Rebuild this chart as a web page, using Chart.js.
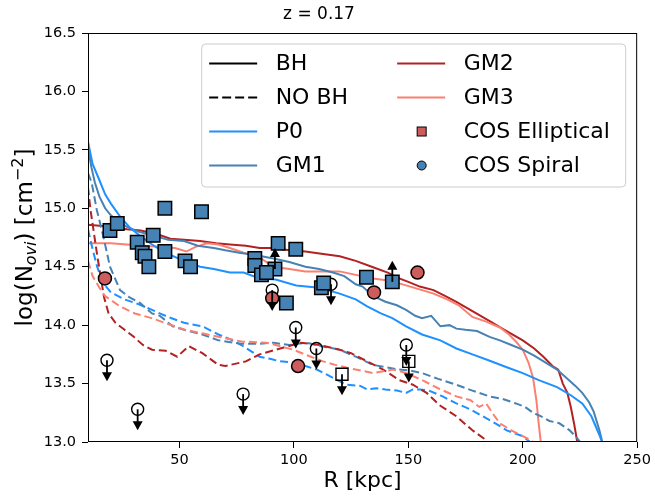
<!DOCTYPE html>
<html lang="en">
<head>
    <meta charset="UTF-8">
    <title>OVI column density profiles</title>
    <style>
        html, body { margin: 0; padding: 0; background: #fff; }
        #myChart { display: block; }
    </style>
</head>
<body>
    <canvas id="myChart" width="655" height="499"></canvas>

    <script src="https://cdn.jsdelivr.net/npm/chart.js"></script>
    <script>
        // ---- tick labels ----
        const xTicks = [50, 100, 150, 200, 250];
        const yTicks = [13.0, 13.5, 14.0, 14.5, 15.0, 15.5, 16.0, 16.5];

        // ---- BH runs (solid) ----
        const p0BhR = [10, 12, 15, 17.5, 20, 24, 28, 33, 38, 42, 46, 52, 59, 65, 72, 78, 85, 92, 101, 111, 120, 127, 132, 138, 143, 149, 156, 164, 171, 178, 185, 193, 200, 207, 215, 221, 226, 230, 233.5, 235];
        const p0BhN = [15.57, 15.38, 15.24, 15.12, 15.04, 14.93, 14.84, 14.76, 14.69, 14.64, 14.60, 14.55, 14.50, 14.48, 14.45, 14.45, 14.40, 14.39, 14.34, 14.32, 14.27, 14.22, 14.16, 14.10, 14.06, 13.99, 13.92, 13.87, 13.80, 13.75, 13.70, 13.64, 13.59, 13.53, 13.47, 13.40, 13.33, 13.22, 13.06, 12.98];

        const gm1BhR = [10, 11.5, 13, 15, 17.5, 20, 23, 27, 32, 38, 45, 52, 58, 65, 70, 76, 83, 91, 98, 105, 111, 117, 122, 127, 130, 134.5, 140, 145, 149, 153, 156, 160, 164, 168, 171, 175, 180, 185.5, 190, 195, 200, 205, 210, 215, 219, 223, 226, 229, 231, 233.5, 235];
        const gm1BhN = [15.52, 15.35, 15.22, 15.10, 15.00, 14.94, 14.89, 14.84, 14.80, 14.77, 14.73, 14.72, 14.68, 14.66, 14.64, 14.62, 14.60, 14.57, 14.54, 14.50, 14.48, 14.45, 14.42, 14.35, 14.33, 14.25, 14.20, 14.17, 14.13, 14.08, 14.06, 14.08, 13.99, 14.00, 13.97, 13.96, 13.95, 13.90, 13.87, 13.83, 13.79, 13.74, 13.68, 13.62, 13.55, 13.48, 13.42, 13.34, 13.26, 13.10, 12.98];

        const gm2BhR = [10, 15, 20, 27, 33, 40, 46, 52, 59, 66, 72, 79, 85, 91, 98, 105, 112, 120, 127, 134, 141, 146, 150, 155, 161, 166, 171, 178, 185, 192, 200, 205, 209, 213, 215.5, 217.5, 219.5, 221, 222.5, 224];
        const gm2BhN = [14.86, 14.85, 14.84, 14.82, 14.81, 14.78, 14.74, 14.73, 14.72, 14.70, 14.69, 14.68, 14.66, 14.66, 14.64, 14.63, 14.61, 14.59, 14.55, 14.50, 14.45, 14.40, 14.37, 14.33, 14.30, 14.25, 14.20, 14.12, 14.04, 13.96, 13.87, 13.80, 13.73, 13.65, 13.62, 13.50, 13.42, 13.30, 13.15, 12.98];

        const gm3BhR = [10, 15, 20, 27, 34, 41, 48, 53, 57, 62, 67, 72, 78, 85, 91, 98, 105, 112, 120, 127, 134.5, 142, 149, 156, 161, 167, 172, 178, 184, 190, 194, 197, 200, 202.5, 204.5, 206, 207, 208];
        const gm3BhN = [14.70, 14.70, 14.70, 14.69, 14.68, 14.67, 14.66, 14.63, 14.67, 14.70, 14.69, 14.66, 14.62, 14.58, 14.50, 14.48, 14.46, 14.46, 14.46, 14.43, 14.40, 14.38, 14.34, 14.30, 14.27, 14.22, 14.17, 14.07, 14.03, 13.98, 13.92, 13.86, 13.79, 13.68, 13.55, 13.35, 13.15, 12.98];

        // ---- NO BH runs (dashed) ----
        const p0NoR = [10, 12, 14, 16.6, 20, 26, 32, 38, 45, 52, 60, 67, 72, 77, 81, 85, 90, 94, 100, 105, 110, 114, 119, 123, 129, 132, 136, 140, 145, 149, 152, 155, 159, 165, 171, 177, 182.5, 188, 193, 197, 200, 204.5];
        const p0NoN = [14.82, 14.65, 14.50, 14.36, 14.28, 14.22, 14.18, 14.13, 14.07, 14.02, 13.99, 13.92, 13.88, 13.83, 13.78, 13.73, 13.71, 13.69, 13.68, 13.65, 13.62, 13.58, 13.53, 13.49, 13.48, 13.45, 13.46, 13.45, 13.44, 13.42, 13.45, 13.45, 13.44, 13.39, 13.33, 13.28, 13.22, 13.16, 13.10, 13.07, 13.05, 12.98];

        const gm1NoR = [10, 11.6, 13.8, 16.7, 19.6, 24, 28, 32.7, 38, 41.4, 47, 52, 60, 67, 77, 84, 91, 98, 105.5, 112, 120, 127, 134.5, 140, 146, 151, 156, 163, 171, 178, 185.5, 191, 197, 201, 204.5, 208, 211.7, 216, 220.5, 223, 226];
        const gm1NoN = [15.30, 15.22, 14.99, 14.76, 14.50, 14.30, 14.24, 14.19, 14.10, 14.08, 13.99, 13.96, 13.92, 13.87, 13.84, 13.84, 13.85, 13.83, 13.85, 13.82, 13.79, 13.73, 13.66, 13.64, 13.62, 13.61, 13.59, 13.54, 13.49, 13.44, 13.39, 13.37, 13.33, 13.30, 13.25, 13.22, 13.18, 13.16, 13.10, 13.05, 12.98];

        const gm2NoR = [10, 11, 12.5, 14, 15.5, 17, 19, 22, 26, 30, 34, 38, 44, 49, 54, 60, 67, 70, 79, 85, 94, 103, 111, 120, 125, 132, 139, 146, 152, 158, 164, 171, 178, 183, 185.5];
        const gm2NoN = [15.18, 15.00, 14.80, 14.60, 14.42, 14.24, 14.10, 14.02, 13.96, 13.90, 13.83, 13.79, 13.78, 13.73, 13.82, 13.76, 13.66, 13.65, 13.69, 13.75, 13.80, 13.85, 13.83, 13.79, 13.76, 13.69, 13.62, 13.53, 13.49, 13.42, 13.31, 13.22, 13.10, 13.03, 12.98];

        const gm3NoR = [10, 12, 15, 17.4, 24, 30.5, 37.8, 45, 52.4, 60, 67, 77, 88, 99.7, 106, 112.7, 118, 124.4, 134.6, 143.3, 149, 156, 163, 171, 177, 181, 184, 187, 190, 195, 200, 203, 206];
        const gm3NoN = [14.55, 14.42, 14.32, 14.25, 14.16, 14.10, 14.06, 14.01, 13.96, 13.93, 13.90, 13.86, 13.85, 13.79, 13.74, 13.69, 13.66, 13.63, 13.59, 13.62, 13.59, 13.53, 13.46, 13.39, 13.36, 13.30, 13.33, 13.24, 13.16, 13.10, 13.05, 13.02, 12.98];

        // ---- COS observations ----
        // filled blue squares (detections)
        const sqR = [19.6, 22.8, 31.5, 33.7, 34.9, 36.6, 38.5, 43.6, 43.6, 52.4, 54.8, 59.6, 82.9, 82.9, 85.8, 88.0, 93.1, 96.7, 100.8, 112, 113, 131.7];
        const sqN = [14.81, 14.87, 14.71, 14.62, 14.59, 14.50, 14.77, 15.00, 14.63, 14.55, 14.50, 14.97, 14.57, 14.51, 14.43, 14.45, 14.70, 14.19, 14.65, 14.32, 14.36, 14.41];
        // filled blue squares with lower limits (arrow up)
        const sqLoR = [91.7, 143];
        const sqLoN = [14.48, 14.37];
        // filled red circles (detections)
        const circR = [17.4, 90.5, 101.8, 135, 154];
        const circN = [14.40, 14.23, 13.65, 14.28, 14.45];
        // open circles / squares with upper limits (arrow down)
        const openCircR = [18.3, 31.7, 77.8, 90.5, 100.8, 109.8, 116.2, 149.1];
        const openCircN = [13.70, 13.28, 13.41, 14.30, 13.98, 13.80, 14.35, 13.83];
        const openSqR = [121, 150.2];
        const openSqN = [13.58, 13.69];

        // ---- legend ----
        const legendLabels = ['BH', 'NO BH', 'P0', 'GM1', 'GM2', 'GM3', 'COS Elliptical', 'COS Spiral'];

        const FONT = "'DejaVu Sans', sans-serif";
        const C_P0 = '#1e90ff', C_GM1 = '#4682b4', C_GM2 = '#b22222', C_GM3 = '#fa8072';
        const C_SQ = '#4682b4', C_CIRC = '#cd5c5c';
        const DASH = [8, 4];
        const ARROW_LEN = 0.18;

        function pts(r, n) {
            return r.map((v, i) => ({ x: v, y: n[i] }));
        }

        function lineSet(r, n, color, dashed) {
            return {
                type: 'line',
                data: pts(r, n),
                borderColor: color,
                borderWidth: 2,
                borderDash: dashed ? DASH : [],
                pointRadius: 0,
                fill: false,
                tension: 0,
                order: 10
            };
        }

        function markerSet(r, n, style, radius, face, edgeWidth) {
            return {
                type: 'scatter',
                data: pts(r, n),
                showLine: false,
                pointStyle: style,
                pointRadius: radius,
                pointBackgroundColor: face,
                pointBorderColor: '#000',
                pointBorderWidth: edgeWidth,
                order: 1
            };
        }

        const datasets = [
            lineSet(gm3NoR, gm3NoN, C_GM3, true),
            lineSet(gm2NoR, gm2NoN, C_GM2, true),
            lineSet(gm1NoR, gm1NoN, C_GM1, true),
            lineSet(p0NoR, p0NoN, C_P0, true),
            lineSet(p0BhR, p0BhN, C_P0, false),
            lineSet(gm1BhR, gm1BhN, C_GM1, false),
            lineSet(gm3BhR, gm3BhN, C_GM3, false),
            lineSet(gm2BhR, gm2BhN, C_GM2, false),
            markerSet(sqR, sqN, 'rect', 9.5, C_SQ, 1.5),
            markerSet(sqLoR, sqLoN, 'rect', 9.5, C_SQ, 1.5),
            markerSet(circR, circN, 'circle', 6.5, C_CIRC, 1.5),
            markerSet(openCircR, openCircN, 'circle', 6, 'rgba(0,0,0,0)', 1.4),
            markerSet(openSqR, openSqN, 'rect', 8.5, 'rgba(0,0,0,0)', 1.4)
        ];

        // frame round the plot (top and right spines too)
        const framePlugin = {
            id: 'frame',
            afterDatasetsDraw(chart) {
                const { ctx, chartArea: a } = chart;
                ctx.save();
                ctx.strokeStyle = '#000';
                ctx.lineWidth = 1;
                ctx.strokeRect(a.left + 0.5, a.top + 0.5, a.right - a.left - 1, a.bottom - a.top - 1);
                ctx.restore();
            }
        };

        // limit arrows on the COS points
        const arrowPlugin = {
            id: 'limitArrows',
            afterDatasetsDraw(chart) {
                const { ctx, scales: { x, y } } = chart;
                ctx.save();
                ctx.strokeStyle = '#000';
                ctx.fillStyle = '#000';
                ctx.lineWidth = 1.8;
                const draw = (r, n, dir) => {
                    r.forEach((rv, i) => {
                        const px = x.getPixelForValue(rv);
                        const p0 = y.getPixelForValue(n[i]);
                        const p1 = y.getPixelForValue(n[i] + dir * ARROW_LEN);
                        const s = p1 > p0 ? 1 : -1;
                        ctx.beginPath();
                        ctx.moveTo(px, p0);
                        ctx.lineTo(px, p1 - s * 7);
                        ctx.stroke();
                        ctx.beginPath();
                        ctx.moveTo(px, p1);
                        ctx.lineTo(px - 5, p1 - s * 9);
                        ctx.lineTo(px + 5, p1 - s * 9);
                        ctx.closePath();
                        ctx.fill();
                    });
                };
                draw(openCircR, openCircN, -1);
                draw(openSqR, openSqN, -1);
                draw(sqLoR, sqLoN, 1);
                ctx.restore();
            }
        };

        // legend box in the upper right
        const legendPlugin = {
            id: 'boxLegend',
            afterDraw(chart) {
                const { ctx, chartArea: a } = chart;
                const w = 424, h = 143;
                const left = a.right - 11.5 - w, top = a.top + 11;
                ctx.save();
                ctx.beginPath();
                ctx.roundRect(left, top, w, h, 4);
                ctx.fillStyle = 'rgba(255,255,255,0.85)';
                ctx.fill();
                ctx.strokeStyle = '#cccccc';
                ctx.lineWidth = 1;
                ctx.stroke();

                const handles = [
                    { kind: 'line', color: '#000' },
                    { kind: 'line', color: '#000', dash: [9, 4] },
                    { kind: 'line', color: C_P0 },
                    { kind: 'line', color: C_GM1 },
                    { kind: 'line', color: C_GM2 },
                    { kind: 'line', color: C_GM3 },
                    { kind: 'rect', color: C_CIRC },
                    { kind: 'circle', color: C_SQ }
                ];
                ctx.font = '22px ' + FONT;
                ctx.textBaseline = 'middle';
                ctx.fillStyle = '#000';
                legendLabels.forEach((label, i) => {
                    const col = Math.floor(i / 4), row = i % 4;
                    const cy = top + 19.5 + row * 34;
                    const hx = left + (col === 0 ? 7.5 : 195.5);
                    const tx = left + (col === 0 ? 74 : 262);
                    const hd = handles[i];
                    if (hd.kind === 'line') {
                        ctx.beginPath();
                        ctx.setLineDash(hd.dash || []);
                        ctx.strokeStyle = hd.color;
                        ctx.lineWidth = 2;
                        ctx.moveTo(hx, cy);
                        ctx.lineTo(hx + 48, cy);
                        ctx.stroke();
                        ctx.setLineDash([]);
                    } else if (hd.kind === 'rect') {
                        ctx.fillStyle = hd.color;
                        ctx.strokeStyle = '#000';
                        ctx.lineWidth = 1;
                        ctx.fillRect(hx + 20, cy - 4.5, 9, 9);
                        ctx.strokeRect(hx + 20, cy - 4.5, 9, 9);
                    } else {
                        ctx.beginPath();
                        ctx.arc(hx + 24.5, cy, 4.5, 0, Math.PI * 2);
                        ctx.fillStyle = hd.color;
                        ctx.fill();
                        ctx.strokeStyle = '#000';
                        ctx.lineWidth = 1;
                        ctx.stroke();
                    }
                    ctx.fillStyle = '#000';
                    ctx.fillText(label, tx, cy + 1);
                });
                ctx.restore();
            }
        };

        // y axis title with sub/superscripts
        const yTitlePlugin = {
            id: 'yTitle',
            afterDraw(chart) {
                const { ctx, chartArea: a } = chart;
                const big = 23, small = 16;
                const parts = [
                    { t: 'log(N', f: big + 'px ' + FONT, dy: 0 },
                    { t: 'ovi', f: 'italic ' + small + 'px ' + FONT, dy: 4 },
                    { t: ') [cm', f: big + 'px ' + FONT, dy: 0 },
                    { t: '\u22122', f: small + 'px ' + FONT, dy: -9.5 },
                    { t: ']', f: big + 'px ' + FONT, dy: 0 }
                ];
                ctx.save();
                let total = 0;
                parts.forEach(p => { ctx.font = p.f; p.w = ctx.measureText(p.t).width; total += p.w; });
                ctx.translate(32, (a.top + a.bottom) / 2);
                ctx.rotate(-Math.PI / 2);
                ctx.fillStyle = '#000';
                ctx.textBaseline = 'alphabetic';
                let cx = -total / 2;
                parts.forEach(p => {
                    ctx.font = p.f;
                    ctx.fillText(p.t, cx, p.dy);
                    cx += p.w;
                });
                ctx.restore();
            }
        };

        const ctx = document.getElementById('myChart').getContext('2d');
        new Chart(ctx, {
            type: 'line',
            data: { datasets: datasets },
            options: {
                responsive: false,
                animation: false,
                events: [],
                layout: { padding: { left: 0, right: 17, top: 0, bottom: 0 } },
                plugins: {
                    legend: { display: false },
                    tooltip: { enabled: false },
                    title: {
                        display: true,
                        text: 'z = 0.17',
                        color: '#000',
                        font: { family: FONT, size: 17, weight: 'normal' },
                        padding: { top: 4, bottom: 8.6 }
                    }
                },
                scales: {
                    x: {
                        type: 'linear',
                        min: 10,
                        max: 250,
                        afterBuildTicks: s => { s.ticks = xTicks.map(v => ({ value: v })); },
                        afterFit: s => { s.height = 57; },
                        grid: { drawOnChartArea: false, drawTicks: true, tickLength: 6, color: '#000' },
                        border: { display: false },
                        ticks: { color: '#000', font: { family: FONT, size: 14.5 }, padding: 4, maxRotation: 0 },
                        title: { display: true, text: 'R [kpc]', color: '#000', font: { family: FONT, size: 22 }, padding: { bottom: 5 } }
                    },
                    y: {
                        type: 'linear',
                        min: 13,
                        max: 16.5,
                        afterBuildTicks: s => { s.ticks = yTicks.map(v => ({ value: v })); },
                        afterFit: s => { s.width = 88; },
                        grid: { drawOnChartArea: false, drawTicks: true, tickLength: 6, color: '#000' },
                        border: { display: false },
                        ticks: { color: '#000', font: { family: FONT, size: 14.5 }, padding: 6, callback: v => v.toFixed(1) }
                    }
                }
            },
            plugins: [framePlugin, arrowPlugin, legendPlugin, yTitlePlugin]
        });
    </script>
</body>
</html>
